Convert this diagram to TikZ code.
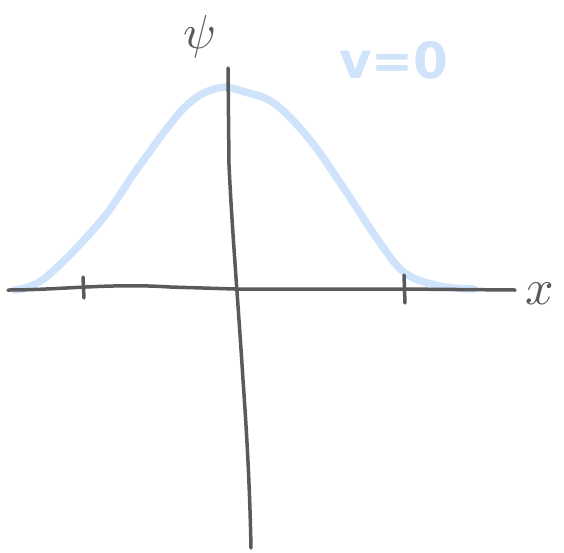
\documentclass[tikz,border=0pt]{standalone}
\usepackage{fontspec}
\newfontfamily\handfont{DejaVu Sans}
\definecolor{pen}{HTML}{5A5A5A}
\definecolor{curveblue}{HTML}{CFE3FA}
\begin{document}
\begin{tikzpicture}[x=1pt,y=-1pt,
  axis/.style={draw=pen,line width=3.5pt,line cap=round,line join=round},
  wave/.style={draw=curveblue,line width=7.5pt,line cap=round,line join=round},
  lbl/.style={inner sep=0pt}]
\useasboundingbox (0,0) rectangle (564,552);
% curve
\draw[wave] plot[smooth,tension=0.6] coordinates {(14,290) (45,278) (100,222) (140,165) (185,107) (218,88) (245,92) (275,104) (310,140) (345,190) (378,240) (405,273) (440,286) (474,289)};
% axes
\coordinate (hx0) at (8,290);
\coordinate (hx1) at (515,290);
\draw[axis] (hx0) .. controls (60,290) and (110,283) .. (170,287) -- (235,289) -- (400,289) -- (hx1);
\coordinate (vy0) at (228,68);
\coordinate (vy1) at (251,548);
\draw[axis] (vy0) -- (229,165) .. controls (232,230) and (238,300) .. (243,380) .. controls (248,450) and (250,500) .. (vy1);
% ticks
\coordinate (t1a) at (83,277); \coordinate (t1b) at (84,298);
\draw[axis] (t1a) -- (t1b);
\coordinate (t2a) at (404,275); \coordinate (t2b) at (405,303);
\draw[axis] (t2a) -- (t2b);
% labels
\node[lbl,text=pen,scale=4.8] (psi) at (200,36) {$\psi$};
\node[lbl,text=pen,scale=5] (xl) at (540,294) {$x$};
\node[lbl,text=curveblue] (v0) at (394,60) {\handfont\bfseries\fontsize{50}{50}\selectfont v=0};
\end{tikzpicture}
\end{document}
